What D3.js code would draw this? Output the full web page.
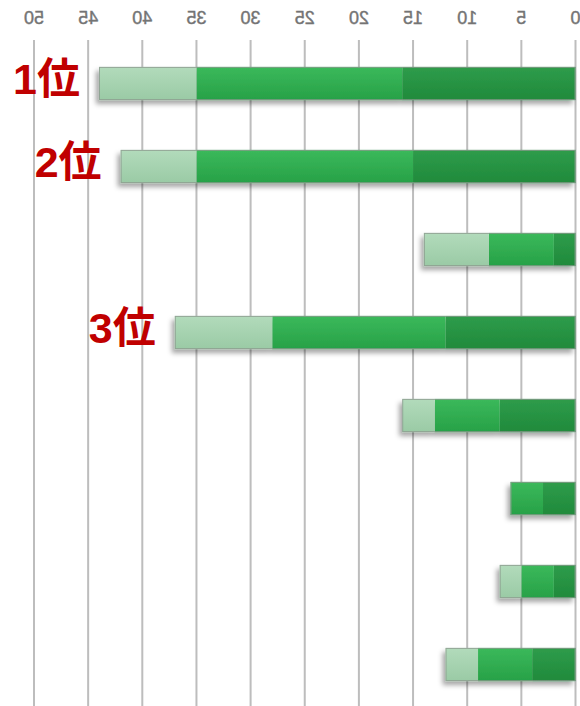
<!DOCTYPE html>
<html>
<head>
<meta charset="utf-8">
<script src="https://cdn.jsdelivr.net/npm/d3@7"></script>
<style>
html,body{margin:0;padding:0;background:#fff;}
svg{display:block;}
</style>
</head>
<body>
<svg id="chart" width="580" height="706"></svg>
<script>
const categories = ["A","B","C","D","E","F","G","H"];
const rankLabels = ["1位","2位","","3位","","","",""];
const seriesKeys = ["dark","medium","light"];
const darkValues   = [16,15,2,12,7,3,2,4];
const mediumValues = [19,20,6,16,6,3,3,5];
const lightValues  = [9,7,6,9,3,0,2,3];
const tickValues = [0,5,10,15,20,25,30,35,40,45,50];

const W = 580, H = 706;
const svg = d3.select("#chart");

const rows = categories.map((c,i)=>({cat:c, rank:rankLabels[i], dark:darkValues[i], medium:mediumValues[i], light:lightValues[i]}));

const x = d3.scaleLinear().domain([0,50]).range([575.5,34]);
const y = d3.scaleBand().domain(categories).range([42,706]).paddingInner(0.6).paddingOuter(0.3);

const defs = svg.append("defs");
const grads = {
  dark:["#2f9c4b","#1f8a3b"],
  medium:["#3bb95b","#27a147"],
  light:["#b2dbbb","#9acaa5"]
};
Object.entries(grads).forEach(([k,[c1,c2]])=>{
  const g = defs.append("linearGradient").attr("id","g-"+k).attr("x1",0).attr("y1",0).attr("x2",0).attr("y2",1);
  g.append("stop").attr("offset","0%").attr("stop-color",c1);
  g.append("stop").attr("offset","100%").attr("stop-color",c2);
});
const f = defs.append("filter").attr("id","shadow").attr("x","-20%").attr("y","-30%").attr("width","140%").attr("height","180%");
f.append("feDropShadow").attr("dx",-3).attr("dy",4).attr("stdDeviation",2.5).attr("flood-color","#000").attr("flood-opacity",0.35);

// gridlines
svg.append("g").selectAll("line").data(tickValues).join("line")
  .attr("x1",d=>x(d)).attr("x2",d=>x(d))
  .attr("y1",40).attr("y2",H)
  .attr("stroke","#bdbdbd").attr("stroke-width",2);

// mirrored tick labels
svg.append("g").selectAll("text").data(tickValues).join("text")
  .attr("transform",d=>`translate(${x(d)},24) scale(-1,1)`)
  .attr("text-anchor","middle")
  .attr("font-family","Liberation Sans, Arial, sans-serif")
  .attr("font-size",18)
  .attr("fill","#747474")
  .attr("stroke","#747474").attr("stroke-width",0.4)
  .text(d=>d);

const stacked = d3.stack().keys(seriesKeys)(rows);

const barG = svg.append("g");
rows.forEach((r,i)=>{
  const g = barG.append("g").attr("filter","url(#shadow)");
  stacked.forEach(s=>{
    const d = s[i];
    const w = x(d[0]) - x(d[1]);
    if (w <= 0) return;
    g.append("rect")
      .attr("x",x(d[1])).attr("y",y(r.cat))
      .attr("width",w).attr("height",y.bandwidth())
      .attr("fill",`url(#g-${s.key})`);
  });
  const total = r.dark + r.medium + r.light;
  barG.append("rect")
    .attr("x",x(total)+0.5).attr("y",y(r.cat)+0.5)
    .attr("width",x(0)-x(total)-1).attr("height",y.bandwidth()-1)
    .attr("fill","none").attr("stroke","#8c9a8f").attr("stroke-width",1).attr("stroke-opacity",0.8);
});

// rank labels
svg.append("g").selectAll("text").data(rows.filter(r=>r.rank)).join("text")
  .attr("x",r=>x(r.dark+r.medium+r.light)-19)
  .attr("y",r=>y(r.cat)+y.bandwidth()/2+10)
  .attr("text-anchor","end")
  .attr("font-family","Liberation Sans, 'Noto Sans CJK JP', sans-serif")
  .attr("font-weight","bold")
  .attr("font-size",43)
  .attr("fill","#c00000")
  .text(r=>r.rank);
</script>
</body>
</html>
